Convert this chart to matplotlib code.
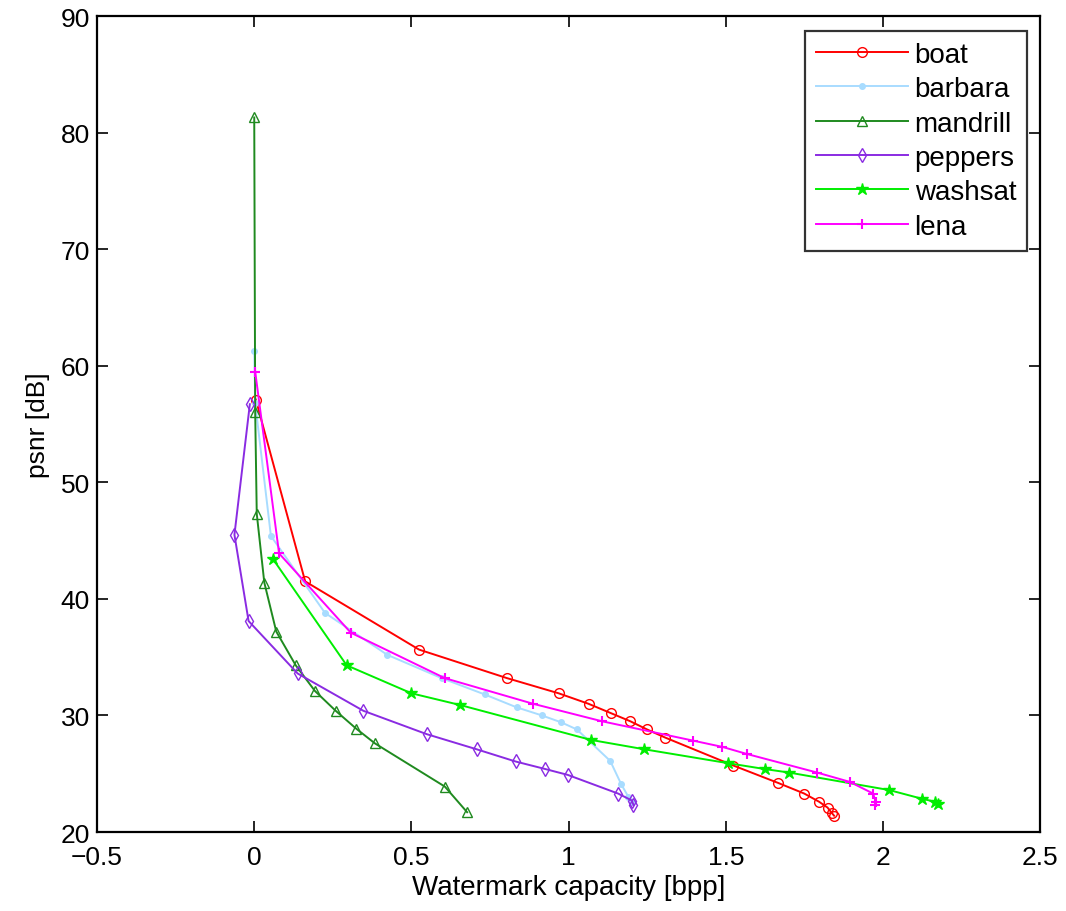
import numpy as np
import matplotlib.pyplot as plt

plt.rcParams['font.family'] = ['Liberation Sans', 'DejaVu Sans']

# psnr vs capacity curves
boat_x = [0.005, 0.162, 0.524, 0.804, 0.968, 1.063, 1.134, 1.196, 1.249, 1.307,
          1.524, 1.667, 1.749, 1.796, 1.823, 1.836, 1.844]
boat_y = [57.1, 41.5, 35.65, 33.2, 31.9, 31.0, 30.2, 29.5, 28.8, 28.1,
          25.7, 24.2, 23.3, 22.6, 22.1, 21.65, 21.4]

barbara_x = [0.0, 0.003, 0.053, 0.225, 0.423, 0.596, 0.733, 0.834, 0.915, 0.977,
             1.026, 1.132, 1.167, 1.19, 1.2]
barbara_y = [61.3, 56.8, 45.4, 38.8, 35.2, 33.2, 31.8, 30.7, 30.0, 29.4,
             28.8, 26.1, 24.1, 23.0, 22.6]

mandrill_x = [0.0, 0.003, 0.008, 0.032, 0.07, 0.132, 0.193, 0.259, 0.325, 0.384, 0.606, 0.677]
mandrill_y = [81.3, 56.0, 47.3, 41.4, 37.2, 34.3, 32.1, 30.4, 28.85, 27.6, 23.9, 21.7]

peppers_x = [-0.014, -0.063, -0.018, 0.138, 0.347, 0.548, 0.707, 0.831, 0.926, 0.997,
             1.157, 1.201, 1.206]
peppers_y = [56.7, 45.5, 38.1, 33.6, 30.4, 28.4, 27.1, 26.05, 25.4, 24.9,
             23.3, 22.7, 22.3]

washsat_x = [0.06, 0.294, 0.5, 0.654, 1.071, 1.24, 1.508, 1.624, 1.701, 2.019,
             2.124, 2.164, 2.175]
washsat_y = [43.4, 34.3, 31.9, 30.9, 27.9, 27.1, 25.9, 25.4, 25.1, 23.6,
             22.85, 22.6, 22.4]

lena_x = [0.003, 0.079, 0.307, 0.606, 0.887, 1.106, 1.394, 1.489, 1.566, 1.79,
          1.894, 1.968, 1.976, 1.973]
lena_y = [59.5, 43.9, 37.1, 33.2, 31.0, 29.5, 27.85, 27.3, 26.7, 25.1,
          24.3, 23.3, 22.6, 22.3]

fig = plt.figure(figsize=(10.66, 9.12), dpi=100)
ax = fig.add_axes([0.091, 0.0866, 0.885, 0.8947])

ax.plot(boat_x, boat_y, color='red', marker='o', mfc='none', ms=7, lw=1.4, label='boat')
ax.plot(barbara_x, barbara_y, color='#a8dcff', marker='.', ms=8, lw=1.4, label='barbara')
ax.plot(mandrill_x, mandrill_y, color='#1f8a1f', marker='^', mfc='none', ms=7, lw=1.4, label='mandrill')
ax.plot(peppers_x, peppers_y, color='#8a2be2', marker='d', mfc='none', ms=7, lw=1.4, label='peppers')
ax.plot(washsat_x, washsat_y, color='#00ee00', marker='*', ms=9, lw=1.4, label='washsat')
ax.plot(lena_x, lena_y, color='magenta', marker='+', ms=7, mew=1.5, lw=1.4, label='lena')

ax.set_xlim(-0.5, 2.5)
ax.set_ylim(20, 90)
ax.set_xticks(np.arange(-0.5, 2.51, 0.5))
ax.set_yticks(np.arange(20, 91, 10))
ax.set_xticklabels(['\u22120.5', '0', '0.5', '1', '1.5', '2', '2.5'])
ax.tick_params(direction='in', top=True, right=True, labelsize=19, length=8, width=1.2)
ax.tick_params(axis='x', pad=9)
ax.tick_params(axis='y', pad=5)
for s in ax.spines.values():
    s.set_linewidth(1.6)

ax.set_xlabel('Watermark capacity [bpp]', fontsize=20, labelpad=4)
ax.set_ylabel('psnr [dB]', fontsize=19, labelpad=8)

leg = ax.legend(loc='upper right', bbox_to_anchor=(0.986, 0.982), fontsize=20, frameon=True,
                fancybox=False, edgecolor='black', handlelength=3.3, borderpad=0.4,
                labelspacing=0.3, handletextpad=0.25, borderaxespad=0.0)
leg.get_frame().set_linewidth(1.6)

fig.savefig('out.png', dpi=100)
